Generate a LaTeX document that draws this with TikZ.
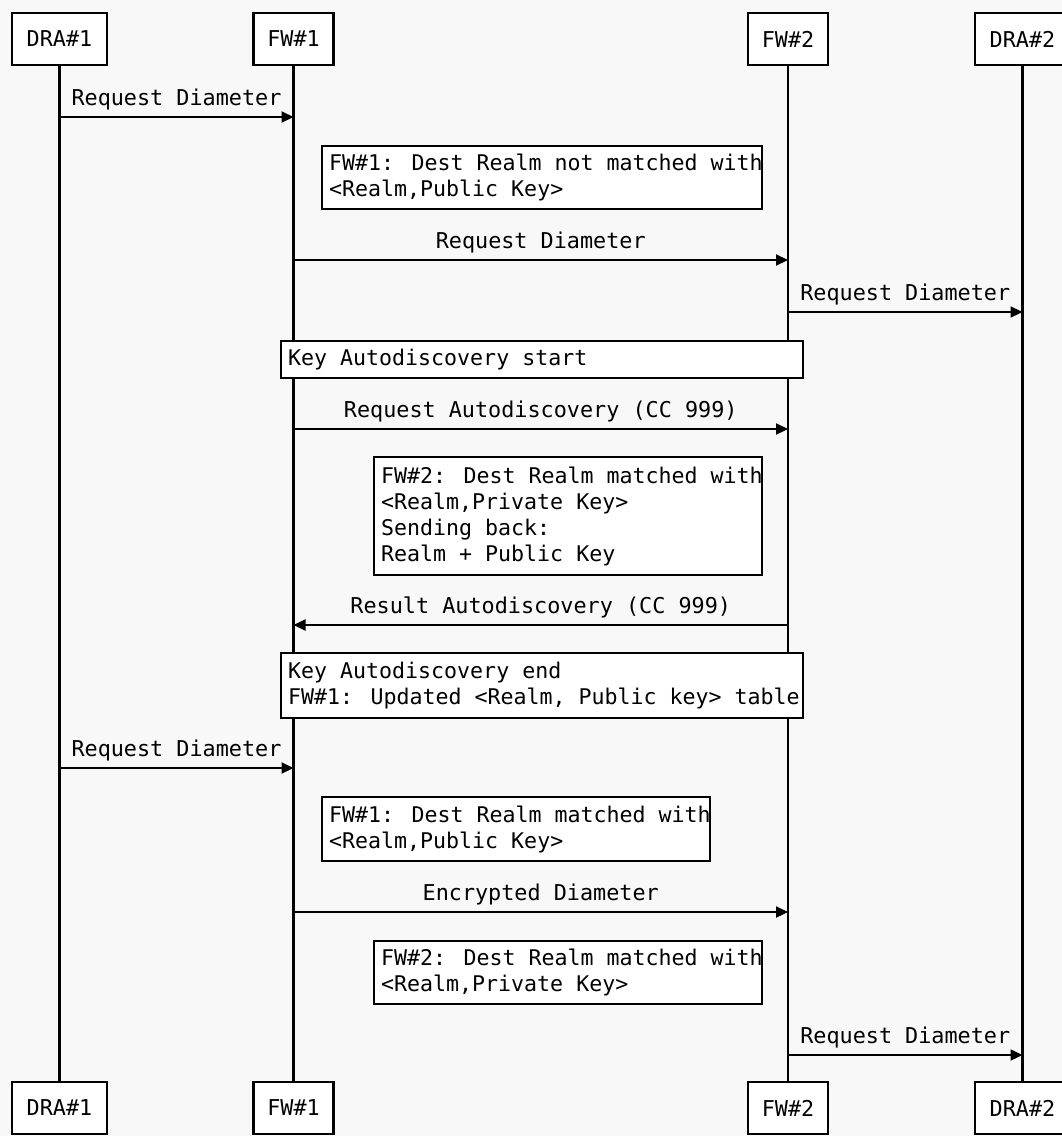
\documentclass[tikz,border=0pt]{standalone}
\usepackage{fontspec}
\setmainfont{DejaVu Sans Mono}
\usetikzlibrary{arrows.meta}
\definecolor{paper}{RGB}{248,248,248}
% keep the font's own word space inside left-aligned note boxes
\newcommand\fixedspaces{\spaceskip=0pt\xspaceskip=0pt\relax}
\begin{document}
\begin{tikzpicture}[x=1pt,y=-1pt,
  font=\fontsize{21.8}{26}\selectfont,
  head/.style={draw, fill=white, line width=2.4pt, minimum height=52pt, inner sep=0pt},
  life/.style={line width=2.2pt},
  msg/.style={line width=2.2pt, -{Triangle[length=12pt,width=11pt]}},
  lbl/.style={anchor=base, inner sep=0pt, yshift=12pt},
  note/.style={draw, fill=white, line width=2.4pt, anchor=north west, align=left,
               inner xsep=7pt, inner ysep=0pt, font=\fontsize{21.6}{26}\selectfont}
]
\useasboundingbox (0,0) rectangle (1062,1136);
\clip (0,0) rectangle (1062,1136);
\fill[paper] (0,0) rectangle (1062,1136);

% participants, top and bottom
\node[head, minimum width=95pt] (a1)  at (59.5,39)   {DRA\#1};
\node[head, minimum width=80pt] (f1)  at (293.5,39)  {FW\#1};
\node[head, minimum width=80pt] (f2)  at (788,39)    {FW\#2};
\node[head, minimum width=95pt] (a2)  at (1022.5,39) {DRA\#2};
\node[head, minimum width=95pt] (a1b) at (59.5,1108)   {DRA\#1};
\node[head, minimum width=80pt] (f1b) at (293.5,1108)  {FW\#1};
\node[head, minimum width=80pt] (f2b) at (788,1108)    {FW\#2};
\node[head, minimum width=95pt] (a2b) at (1022.5,1108) {DRA\#2};

% lifelines
\draw[life] (a1.south) -- (a1b.north);
\draw[life] (f1.south) -- (f1b.north);
\draw[life] (f2.south) -- (f2b.north);
\draw[life] (a2.south) -- (a2b.north);

% message rows
\coordinate (r1) at (0,117);
\coordinate (r2) at (0,260);
\coordinate (r3) at (0,312);
\coordinate (r4) at (0,429);
\coordinate (r5) at (0,625);
\coordinate (r6) at (0,768);
\coordinate (r7) at (0,912);
\coordinate (r8) at (0,1055);

\draw[msg] (a1 |- r1) -- node[lbl] {Request Diameter} (f1 |- r1);

\node[note, text width=426pt, minimum height=63pt] (n1) at (321,145)
  {\fixedspaces\mbox{FW\#1: Dest Realm not matched with}\\\mbox{<Realm,Public Key>}};

\draw[msg] (f1 |- r2) -- node[lbl] {Request Diameter} (f2 |- r2);
\draw[msg] (f2 |- r3) -- node[lbl] {Request Diameter} (a2 |- r3);

\node[note, text width=508pt, minimum height=37pt] (k1) at (280,340)
  {\fixedspaces\mbox{Key Autodiscovery start}};

\draw[msg] (f1 |- r4) -- node[lbl] {Request Autodiscovery (CC 999)} (f2 |- r4);

\node[note, text width=374pt, minimum height=118pt] (n2) at (373,456)
  {\fixedspaces\mbox{FW\#2: Dest Realm matched with}\\\mbox{<Realm,Private Key>}\\
   \mbox{Sending back:}\\\mbox{Realm + Public Key}};

\draw[msg] (f2 |- r5) -- node[lbl] {Result Autodiscovery (CC 999)} (f1 |- r5);

\node[note, text width=508pt, minimum height=65pt] (k2) at (280,652)
  {\fixedspaces\mbox{Key Autodiscovery end}\\\mbox{FW\#1: Updated <Realm, Public key> table}};

\draw[msg] (a1 |- r6) -- node[lbl] {Request Diameter} (f1 |- r6);

\node[note, text width=374pt, minimum height=64pt] (n3) at (321,796)
  {\fixedspaces\mbox{FW\#1: Dest Realm matched with}\\\mbox{<Realm,Public Key>}};

\draw[msg] (f1 |- r7) -- node[lbl] {Encrypted Diameter} (f2 |- r7);

\node[note, text width=374pt, minimum height=63pt] (n4) at (373,940)
  {\fixedspaces\mbox{FW\#2: Dest Realm matched with}\\\mbox{<Realm,Private Key>}};

\draw[msg] (f2 |- r8) -- node[lbl] {Request Diameter} (a2 |- r8);
\end{tikzpicture}
\end{document}
